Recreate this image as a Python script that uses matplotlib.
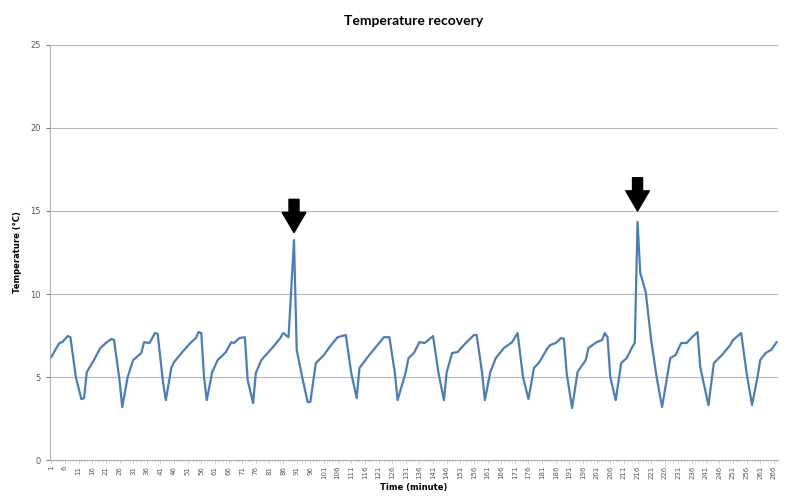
import numpy as np
import matplotlib.pyplot as plt

minutes = [1, 3, 4, 5, 7, 8, 10, 12, 13, 14, 16, 19, 21, 23, 24, 26, 27, 29, 31, 34, 35, 37, 39, 40,
           42, 43, 45, 46, 49, 52, 54, 55, 56, 57, 58, 60, 62, 65, 67, 68, 70, 72, 73, 75, 76, 78,
           82, 85, 86, 88, 90, 91, 93, 95, 96, 98, 101, 103, 106, 109, 111, 113, 114, 117, 120,
           123, 125, 127, 128, 131, 132, 134, 136, 138, 141, 143, 145, 146, 148, 150, 153, 156,
           157, 159, 160, 162, 164, 167, 170, 172, 174, 176, 178, 180, 183, 184, 186, 188, 189,
           190, 192, 194, 197, 198, 201, 203, 204, 205, 206, 208, 210, 212, 213, 214, 215, 216,
           217, 219, 221, 223, 225, 228, 230, 232, 234, 236, 238, 239, 242, 244, 247, 250, 251,
           254, 256, 258, 260, 261, 263, 265, 267]
temps = [6.2, 6.8, 7.05, 7.1, 7.47, 7.4, 5.0, 3.67, 3.73, 5.3, 5.84, 6.75, 7.05, 7.29, 7.23, 4.82,
         3.19, 5.0, 6.02, 6.45, 7.1, 7.05, 7.65, 7.6, 4.64, 3.61, 5.54, 5.9, 6.5, 7.05, 7.35,
         7.71, 7.65, 5.0, 3.61, 5.3, 6.02, 6.5, 7.1, 7.05, 7.35, 7.4, 4.82, 3.43, 5.24, 6.02,
         6.75, 7.35, 7.65, 7.4, 13.25, 6.63, 5.0, 3.49, 3.5, 5.84, 6.33, 6.8, 7.4, 7.53, 5.24,
         3.73, 5.54, 6.2, 6.8, 7.4, 7.4, 5.24, 3.61, 5.3, 6.14, 6.45, 7.1, 7.05, 7.47, 5.24, 3.61,
         5.3, 6.45, 6.5, 7.05, 7.53, 7.53, 5.24, 3.61, 5.3, 6.14, 6.75, 7.1, 7.65, 5.0, 3.67, 5.54,
         5.9, 6.75, 6.93, 7.05, 7.35, 7.3, 5.24, 3.13, 5.3, 6.02, 6.75, 7.1, 7.23, 7.65, 7.4, 5.0,
         3.61, 5.84, 6.14, 6.45, 6.8, 7.05, 14.34, 11.27, 10.12, 7.23, 5.0, 3.19, 6.14, 6.33,
         7.05, 7.05, 7.4, 7.71, 5.6, 3.31, 5.84, 6.33, 6.93, 7.23, 7.65, 5.24, 3.31, 5.0, 6.02,
         6.45, 6.63, 7.1]

# arrows marking the two spikes: (minute, tail temp, tip temp)
arrow_minutes = [90, 216]
arrow_tails = [15.7, 17.0]
arrow_tips = [13.7, 15.0]

tick_minutes = list(range(1, 268, 5))
grey = '#595959'

fig = plt.figure(figsize=(7.87, 4.99), dpi=100)
ax = fig.add_axes([0.0635, 0.078, 0.925, 0.832])

ax.plot(minutes, temps, color='#4a7ebb', lw=1.6, solid_joinstyle='round')

for m, t0, t1 in zip(arrow_minutes, arrow_tails, arrow_tips):
    ax.annotate('', xy=(m, t1), xytext=(m, t0),
                arrowprops=dict(arrowstyle='simple,head_length=1.45,head_width=1.7,tail_width=0.72',
                                color='black', mutation_scale=10, shrinkA=0, shrinkB=0))

ax.set_xlim(0.5, 267.5)
ax.set_ylim(0, 25)
ax.set_yticks([0, 5, 10, 15, 20, 25])
ax.set_xticks(tick_minutes)
ax.set_xticklabels([str(m) for m in tick_minutes], rotation=90, fontsize=5, color=grey)
ax.tick_params(axis='y', labelsize=6, colors=grey, length=3, width=0.6)
ax.tick_params(axis='x', length=2, width=0.5, colors='#aaaaaa', labelcolor=grey, pad=2)
ax.set_xticks(range(1, 268), minor=True)
ax.tick_params(axis='x', which='minor', length=1.5, width=0.4, colors='#bbbbbb')

ax.grid(axis='y', color='#b8b8b8', lw=0.8)
ax.set_axisbelow(True)
for s in ['top', 'right']:
    ax.spines[s].set_visible(False)
ax.spines['left'].set_color('#b0b0b0')
ax.spines['bottom'].set_color('#b0b0b0')

ax.set_title('Temperature recovery', fontsize=10, fontweight='bold', family='Lato', pad=14)
ax.set_xlabel('Time (minute)', fontsize=6, fontweight='bold', labelpad=3)
ax.set_ylabel('Temperature (\u00b0C)', fontsize=6, fontweight='bold', labelpad=6)

plt.savefig('out.png', dpi=100)
plt.close()
